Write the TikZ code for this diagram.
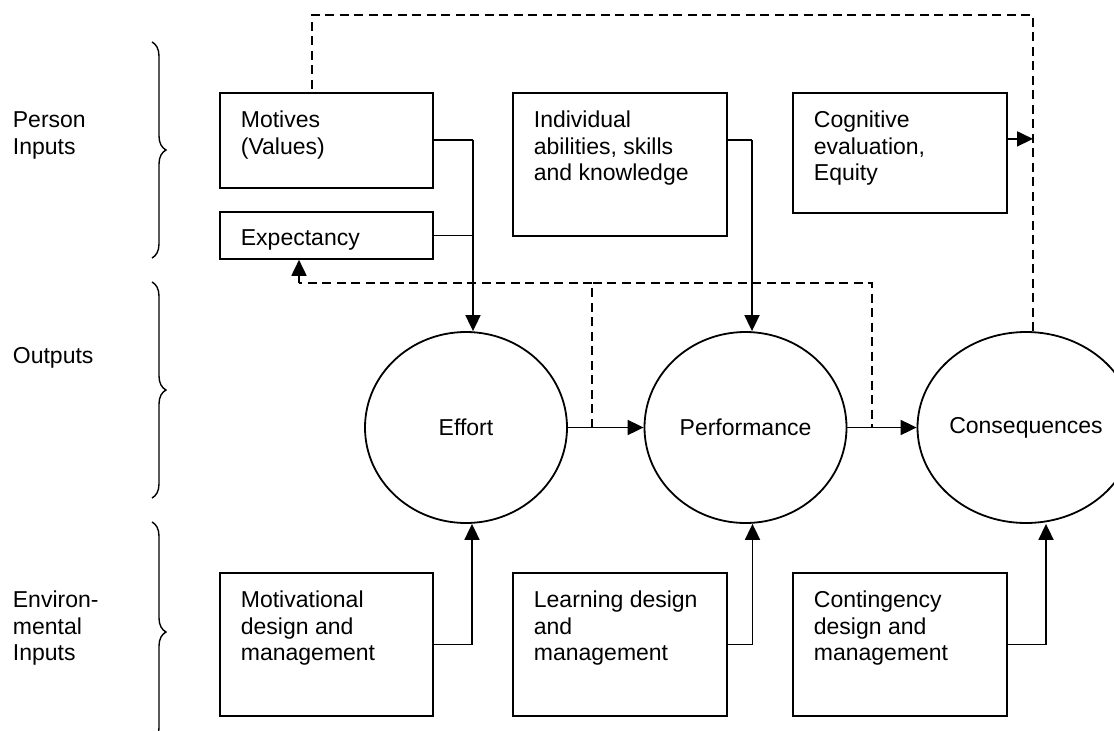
\documentclass[tikz,border=0pt]{standalone}
\usepackage{fontspec}
\setmainfont{Liberation Sans}
\usetikzlibrary{arrows.meta,shapes.geometric,decorations.pathreplacing}

\begin{document}
\begin{tikzpicture}[x=1pt,y=-1pt,line width=1.8pt]
\tikzstyle{box}=[draw,rectangle,anchor=north west,inner sep=0pt]
\tikzstyle{txt}=[anchor=north west,align=left,inner sep=0pt,font=\fontsize{23}{26.5}\selectfont]
\tikzstyle{ball}=[draw,ellipse,minimum width=202pt,minimum height=191pt,inner sep=0pt,font=\fontsize{23}{26.5}\selectfont]
\tikzstyle{arr}=[-{Triangle[length=16pt,width=15pt]}]
\tikzstyle{fb}=[dash pattern=on 9pt off 5.5pt]
\tikzstyle{brc}=[decorate,decoration={brace,amplitude=14pt},line width=1.4pt]
\useasboundingbox (0,0) rectangle (1114,731);

% row labels and braces
\node[txt] (person) at (12,111) {Person\\Inputs};
\node[txt] (outputs) at (12,347) {Outputs};
\node[txt] (environ) at (12,590) {Environ-\\mental\\Inputs};
\draw[brc] (152,42) -- (152,258);
\draw[brc] (152,282) -- (152,498);
\draw[brc] (152,522) -- (152,742);

% person inputs
\node[box,minimum width=213pt,minimum height=95pt] (motives) at (219,92) {};
\node[txt] (motivesT) at ([xshift=21pt,yshift=-18pt]motives.north west) {Motives\\(Values)};
\node[box,minimum width=213pt,minimum height=47pt] (expect) at (219,211) {};
\node[txt] (expectT) at ([xshift=21pt,yshift=-18pt]expect.north west) {Expectancy};
\node[box,minimum width=214pt,minimum height=143pt] (abil) at (512,92) {};
\node[txt] (abilT) at ([xshift=21pt,yshift=-18pt]abil.north west) {Individual\\abilities, skills\\and knowledge};
\node[box,minimum width=214pt,minimum height=120pt] (cogn) at (792,92) {};
\node[txt] (cognT) at ([xshift=21pt,yshift=-18pt]cogn.north west) {Cognitive\\evaluation,\\Equity};

% outputs
\node[ball] (effort) at (466,427.5) {Effort};
\node[ball] (perf) at (745.5,427.5) {Performance};
\node[ball] (cons) at (1026,427.5) {Consequences};

% environmental inputs
\node[box,minimum width=213pt,minimum height=143pt] (motiv) at (219,572) {};
\node[txt] (motivT) at ([xshift=21pt,yshift=-18pt]motiv.north west) {Motivational\\design and\\management};
\node[box,minimum width=214pt,minimum height=143pt] (learn) at (512,572) {};
\node[txt] (learnT) at ([xshift=21pt,yshift=-18pt]learn.north west) {Learning design\\and\\management};
\node[box,minimum width=214pt,minimum height=143pt] (conting) at (792,572) {};
\node[txt] (contingT) at ([xshift=21pt,yshift=-18pt]conting.north west) {Contingency\\design and\\management};

% joints of the connectors
\coordinate (j1) at (473,140);
\coordinate (j2) at (752,140);
\coordinate (fbtop) at (1033,15);
\coordinate (fbleft) at (312,15);
\coordinate (d0) at (299,283);
\coordinate (d1) at (592,283);
\coordinate (d2) at (872,283);
\coordinate (cogout) at ([yshift=14pt]cogn.east);

% solid connectors
\draw (motives.east |- j1) -- (j1);
\draw (expect.east) -- (expect.east -| j1);
\draw[arr] (j1) -- (j1 |- effort.north);
\draw (abil.east |- j2) -- (j2);
\draw[arr] (j2) -- (j2 |- perf.north);
\draw[arr] (effort) -- (perf);
\draw[arr] (perf) -- (cons);
\draw[arr] (cogout) -- (cogout -| fbtop);
\draw[arr] (motiv.east) -| ([xshift=6pt]effort.south);
\draw[arr] (learn.east) -| ([xshift=7pt]perf.south);
\draw[arr] (conting.east) -| ([xshift=20pt]cons.south);

% feedback loops
\draw[fb] (cons.north -| fbtop) -- (fbtop) -- (fbleft) -- (fbleft |- motives.north);
\draw[fb] (d1 |- effort.east) -- (d1) -- (d2) -- (d2 |- perf.east);
\draw[fb] (d1) -- (d0);
\draw[fb,arr] (d0) -- (d0 |- expect.south);
\end{tikzpicture}
\end{document}
